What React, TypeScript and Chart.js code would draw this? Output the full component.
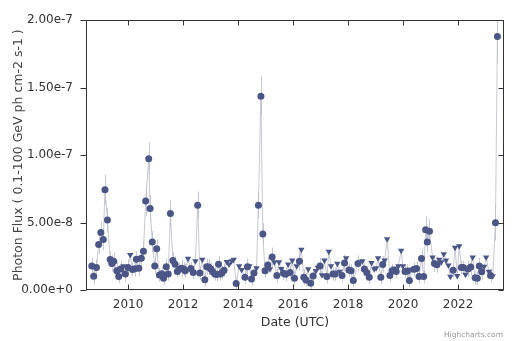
import { useEffect, useRef } from 'react';
import { Chart, registerables } from 'chart.js';

Chart.register(...registerables);

// Bin centre dates (decimal years)
const dates = [
  2008.68, 2008.75, 2008.85, 2008.93, 2009.01, 2009.10, 2009.16, 2009.25, 2009.35, 2009.41,
  2009.48, 2009.59, 2009.66, 2009.73, 2009.83, 2009.90, 2010.00, 2010.08, 2010.16, 2010.24,
  2010.30, 2010.39, 2010.48, 2010.56, 2010.64, 2010.75, 2010.80, 2010.88, 2010.97, 2011.04,
  2011.14, 2011.23, 2011.29, 2011.39, 2011.46, 2011.54, 2011.63, 2011.71, 2011.79, 2011.87,
  2011.95, 2012.02, 2012.08, 2012.18, 2012.28, 2012.37, 2012.45, 2012.53, 2012.61, 2012.70,
  2012.79, 2012.86, 2012.93, 2013.01, 2013.08, 2013.16, 2013.23, 2013.29, 2013.36, 2013.42,
  2013.49, 2013.59, 2013.67, 2013.76, 2013.84, 2013.93, 2014.04, 2014.13, 2014.25, 2014.34,
  2014.41, 2014.49, 2014.58, 2014.67, 2014.74, 2014.83, 2014.90, 2014.98, 2015.08, 2015.16,
  2015.24, 2015.32, 2015.41, 2015.49, 2015.57, 2015.65, 2015.73, 2015.82, 2015.89, 2015.97,
  2016.05, 2016.13, 2016.23, 2016.30, 2016.39, 2016.47, 2016.55, 2016.64, 2016.73, 2016.83,
  2016.90, 2016.98, 2017.05, 2017.14, 2017.23, 2017.30, 2017.38, 2017.45, 2017.53, 2017.61,
  2017.69, 2017.78, 2017.87, 2017.93, 2018.03, 2018.11, 2018.19, 2018.36, 2018.52, 2018.59,
  2018.68, 2018.77, 2018.85, 2018.95, 2019.02, 2019.09, 2019.19, 2019.26, 2019.33, 2019.42,
  2019.52, 2019.60, 2019.68, 2019.75, 2019.83, 2019.93, 2019.99, 2020.07, 2020.16, 2020.23,
  2020.33, 2020.40, 2020.49, 2020.58, 2020.67, 2020.75, 2020.82, 2020.88, 2020.96, 2021.07,
  2021.14, 2021.23, 2021.31, 2021.39, 2021.48, 2021.56, 2021.65, 2021.72, 2021.82, 2021.89,
  2021.97, 2022.04, 2022.12, 2022.19, 2022.27, 2022.36, 2022.46, 2022.53, 2022.62, 2022.70,
  2022.77, 2022.86, 2022.95, 2023.02, 2023.12, 2023.18, 2023.26, 2023.36, 2023.43,
];

// Photon flux in units of 1e-9 ph cm-2 s-1
const fluxNano = [
  17.8, 10.2, 16.6, 33.7, 42.7, 37.4, 74.3, 51.8, 22.6, 19.7,
  21.4, 14.2, 10.1, 15.5, 17.8, 11.9, 16.6, 26.1, 15.2, 15.7,
  22.8, 16.2, 23.5, 28.8, 66.0, 97.3, 60.5, 35.6, 17.8, 30.6,
  11.2, 12.1, 8.8, 17.3, 11.9, 56.7, 21.9, 19.0, 13.7, 15.3,
  16.2, 15.5, 14.2, 23.3, 15.9, 13.0, 21.4, 62.9, 12.6, 22.6,
  7.6, 17.3, 17.1, 15.5, 13.5, 11.9, 11.4, 19.0, 11.9, 13.0,
  14.7, 20.9, 19.0, 21.4, 22.6, 4.8, 17.8, 15.0, 9.5, 17.3,
  17.8, 8.2, 12.6, 16.2, 62.9, 143.6, 41.5, 14.2, 18.5, 15.5,
  24.4, 20.6, 10.7, 20.6, 15.7, 12.5, 11.6, 19.0, 13.0, 21.9,
  8.8, 17.8, 21.4, 29.9, 9.5, 7.5, 15.5, 5.0, 10.3, 14.2,
  16.6, 17.8, 11.0, 21.9, 10.0, 28.5, 17.8, 11.9, 11.9, 19.6,
  13.7, 10.7, 20.1, 23.7, 14.8, 14.2, 7.1, 19.7, 21.4, 15.5,
  13.0, 9.5, 20.1, 15.5, 16.2, 23.7, 9.5, 18.9, 21.9, 37.7,
  10.7, 14.2, 16.0, 13.7, 17.8, 29.2, 17.8, 13.7, 14.0, 7.1,
  15.3, 15.3, 15.9, 10.0, 23.3, 10.0, 44.6, 35.6, 43.6, 24.2,
  19.6, 18.7, 22.6, 20.6, 26.7, 21.9, 18.3, 10.0, 14.6, 31.5,
  10.5, 32.5, 16.6, 16.6, 11.4, 15.5, 17.1, 24.2, 9.0, 8.8,
  17.8, 13.5, 17.3, 24.2, 13.7, 10.7, 10.3, 49.8, 188.0,
];

// 1-sigma error in units of 1e-9 (0 for upper limits)
const errNano = [
  6, 6, 6, 7, 8, 8, 11, 9, 6, 6,
  6, 6, 5, 6, 0, 6, 6, 0, 5, 6,
  6, 6, 6, 7, 11, 12, 10, 8, 6, 7,
  5, 5, 5, 6, 5, 10, 6, 6, 5, 5,
  6, 5, 5, 0, 5, 5, 0, 10, 5, 0,
  5, 6, 6, 5, 5, 5, 5, 6, 5, 5,
  5, 0, 0, 0, 0, 4, 0, 0, 5, 6,
  0, 5, 5, 0, 10, 15, 8, 5, 6, 0,
  7, 0, 5, 0, 0, 5, 5, 0, 5, 0,
  5, 0, 7, 0, 6, 5, 0, 5, 5, 0,
  0, 6, 0, 0, 5, 0, 0, 5, 5, 0,
  0, 5, 6, 0, 5, 5, 5, 6, 0, 5,
  5, 5, 0, 0, 0, 0, 5, 6, 0, 0,
  5, 5, 0, 5, 0, 0, 0, 5, 5, 5,
  0, 5, 5, 5, 6, 5, 10, 8, 9, 0,
  6, 6, 0, 0, 0, 0, 0, 0, 5, 0,
  0, 0, 5, 5, 0, 6, 6, 0, 5, 5,
  6, 6, 0, 0, 0, 5, 0, 13, 20,
];

// 1 = upper limit (down triangle), 0 = detection (circle)
const upperLimit = [
  0, 0, 0, 0, 0, 0, 0, 0, 0, 0,
  0, 0, 0, 0, 1, 0, 0, 1, 0, 0,
  0, 0, 0, 0, 0, 0, 0, 0, 0, 0,
  0, 0, 0, 0, 0, 0, 0, 0, 0, 0,
  0, 0, 0, 1, 0, 0, 1, 0, 0, 1,
  0, 0, 0, 0, 0, 0, 0, 0, 0, 0,
  0, 1, 1, 1, 1, 0, 1, 1, 0, 0,
  1, 0, 0, 1, 0, 0, 0, 0, 0, 1,
  0, 1, 0, 1, 1, 0, 0, 1, 0, 1,
  0, 1, 0, 1, 0, 0, 1, 0, 0, 1,
  1, 0, 1, 1, 0, 1, 1, 0, 0, 1,
  1, 0, 0, 1, 0, 0, 0, 0, 1, 0,
  0, 0, 1, 1, 1, 1, 0, 0, 1, 1,
  0, 0, 1, 0, 1, 1, 1, 0, 0, 0,
  1, 0, 0, 0, 0, 0, 0, 0, 0, 1,
  0, 0, 1, 1, 1, 1, 1, 1, 0, 1,
  1, 1, 0, 0, 1, 0, 0, 1, 0, 0,
  0, 0, 1, 1, 1, 0, 1, 0, 0,
];

const xTickYears = [2010, 2012, 2014, 2016, 2018, 2020, 2022];
const yTickValues = [0, 5e-8, 1e-7, 1.5e-7, 2e-7];

const X_MIN = 2008.47;
const X_MAX = 2023.67;
const NANO = 1e-9;

const MARKER = '#4b5687';
const FONT = "'DejaVu Sans', sans-serif";

const framePlugin = {
  id: 'frameAndErrors',
  beforeDatasetsDraw(chart: any) {
    const { ctx, chartArea: a, scales } = chart;
    const xs = scales.x;
    const ys = scales.y;
    ctx.save();
    ctx.beginPath();
    ctx.rect(a.left, a.top, a.right - a.left, a.bottom - a.top);
    ctx.clip();
    ctx.strokeStyle = 'rgba(140,146,175,0.5)';
    ctx.lineWidth = 1;
    for (let i = 0; i < dates.length; i++) {
      if (upperLimit[i] || !errNano[i]) continue;
      const px = Math.round(xs.getPixelForValue(dates[i])) + 0.5;
      const y1 = ys.getPixelForValue((fluxNano[i] - errNano[i]) * NANO);
      const y2 = ys.getPixelForValue((fluxNano[i] + errNano[i]) * NANO);
      ctx.beginPath();
      ctx.moveTo(px, y1);
      ctx.lineTo(px, y2);
      ctx.stroke();
    }
    ctx.restore();
  },
  afterDraw(chart: any) {
    const { ctx, chartArea: a, scales } = chart;
    const xs = scales.x;
    const ys = scales.y;
    ctx.save();
    ctx.strokeStyle = '#333';
    ctx.lineWidth = 1;
    const L = Math.round(a.left) + 0.5;
    const R = Math.round(a.right) - 0.5;
    const T = Math.round(a.top) + 0.5;
    const B = Math.round(a.bottom) - 0.5;
    ctx.strokeRect(L, T, R - L, B - T);
    ctx.beginPath();
    for (const yr of xTickYears) {
      const px = Math.round(xs.getPixelForValue(yr)) + 0.5;
      ctx.moveTo(px, B);
      ctx.lineTo(px, B - 5);
      ctx.moveTo(px, T);
      ctx.lineTo(px, T + 5);
    }
    for (const v of yTickValues) {
      const py = Math.round(ys.getPixelForValue(v)) + 0.5;
      ctx.moveTo(L, py);
      ctx.lineTo(L - 6, py);
      ctx.moveTo(R, py);
      ctx.lineTo(R - 5, py);
    }
    ctx.stroke();
    ctx.fillStyle = '#999';
    ctx.font = `7.5px ${FONT}`;
    ctx.textAlign = 'right';
    ctx.textBaseline = 'alphabetic';
    ctx.fillText('Highcharts.com', 503, 337);
    ctx.restore();
  },
};

export default function App() {
  const ref = useRef<HTMLCanvasElement | null>(null);
  useEffect(() => {
    document.body.style.margin = '0';
    if (!ref.current) return;
    const points = dates.map((d, i) => ({ x: d, y: fluxNano[i] * NANO }));
    const chart = new Chart(ref.current, {
      type: 'line',
      data: {
        datasets: [
          {
            data: points,
            borderColor: 'rgba(190,192,202,0.85)',
            borderWidth: 1,
            pointBackgroundColor: MARKER,
            pointBorderColor: MARKER,
            pointBorderWidth: 0,
            pointRadius: (c: any) => (upperLimit[c.dataIndex] ? 3.7 : 3.5),
            pointStyle: (c: any) => (upperLimit[c.dataIndex] ? 'triangle' : 'circle'),
            pointRotation: (c: any) => (upperLimit[c.dataIndex] ? 180 : 0),
            tension: 0,
            clip: 4,
          } as any,
        ],
      },
      plugins: [framePlugin],
      options: {
        animation: false,
        responsive: false,
        maintainAspectRatio: false,
        layout: { padding: { top: 8, right: 8, left: 0, bottom: 0 } },
        plugins: { legend: { display: false }, tooltip: { enabled: false } },
        scales: {
          x: {
            type: 'linear',
            min: X_MIN,
            max: X_MAX,
            grid: { display: false, drawTicks: false },
            border: { display: false },
            afterBuildTicks: (s: any) => {
              s.ticks = xTickYears.map((v) => ({ value: v }));
            },
            afterFit: (s: any) => {
              s.height = 51;
            },
            ticks: {
              autoSkip: false,
              maxRotation: 0,
              padding: 8,
              color: '#333',
              font: { family: FONT, size: 12 },
              callback: (v: any) => String(v),
            },
            title: {
              display: true,
              text: 'Date (UTC)',
              color: '#333',
              font: { family: FONT, size: 12.5 },
              padding: { top: 0, bottom: 11 },
            },
          },
          y: {
            type: 'linear',
            min: 0,
            max: 2e-7,
            grid: { display: false, drawTicks: false },
            border: { display: false },
            afterBuildTicks: (s: any) => {
              s.ticks = yTickValues.map((v) => ({ value: v }));
            },
            afterFit: (s: any) => {
              s.width = 86;
            },
            ticks: {
              autoSkip: false,
              padding: 13,
              color: '#333',
              font: { family: FONT, size: 12 },
              callback: (v: any) => Number(v).toExponential(2),
            },
            title: {
              display: true,
              text: 'Photon Flux ( 0.1-100 GeV ph cm-2 s-1 )',
              color: '#444',
              font: { family: FONT, size: 12.5 },
              padding: { top: 11, bottom: 0 },
            },
          },
        },
      } as any,
    });
    return () => chart.destroy();
  }, []);
  return (
    <div style={{ position: 'absolute', left: 0, top: 0, width: 512, height: 341 }}>
      <canvas ref={ref} width={512} height={341} />
    </div>
  );
}
